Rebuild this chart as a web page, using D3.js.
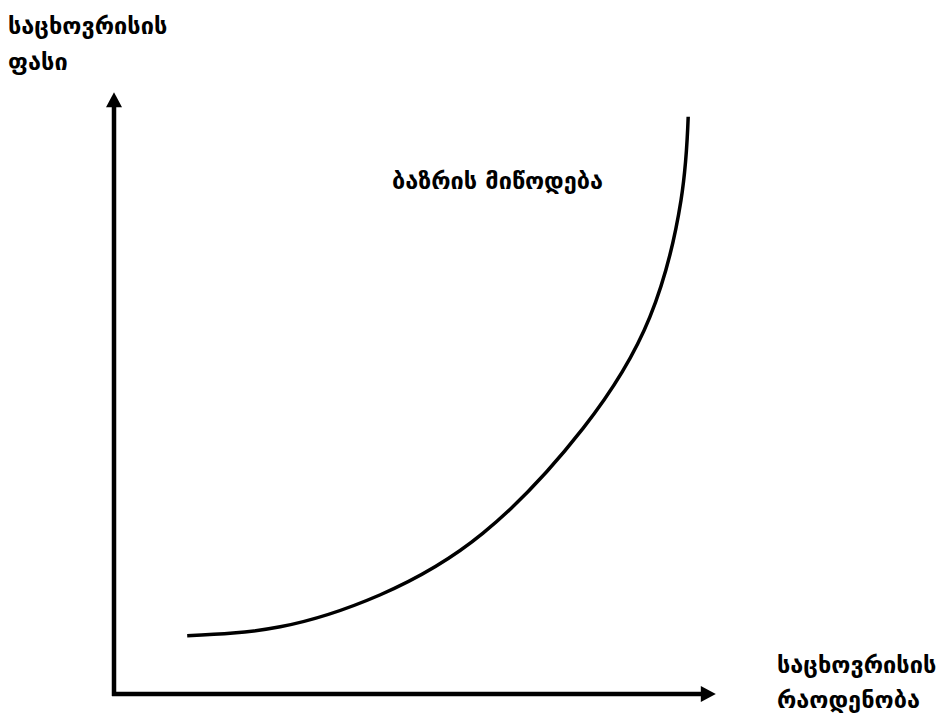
<!DOCTYPE html>
<html>
<head>
<meta charset="utf-8">
<script src="https://cdn.jsdelivr.net/npm/d3@7"></script>
<style>
  html, body { margin: 0; padding: 0; background: #fff; }
  text { font-family: "DejaVu Sans", sans-serif; font-weight: bold; fill: #000; }
</style>
</head>
<body>
<svg id="chart" width="941" height="718"></svg>
<script>
// Data (quantity, price), arbitrary units 0..100
const quantity = [12.2, 27.7, 44.3, 61.5, 78.2, 89.3, 94.5, 95.7];
const price    = [9.7, 11.2, 16.5, 26.8, 44.3, 62.8, 82.3, 96.2];
const yLabelLines = ["საცხოვრისის", "ფასი"];
const xLabelLines = ["საცხოვრისის", "რაოდენობა"];
const curveLabel = "ბაზრის მიწოდება";

const svg = d3.select("#chart");
const x = d3.scaleLinear().domain([0, 100]).range([114, 714]);
const y = d3.scaleLinear().domain([0, 100]).range([694, 94]);

// axes
const axisG = svg.append("g");
axisG.append("line")
  .attr("x1", x(0) - 2).attr("y1", y(0))
  .attr("x2", x(98)).attr("y2", y(0))
  .attr("stroke", "#000").attr("stroke-width", 4.5);
axisG.append("line")
  .attr("x1", x(0)).attr("y1", y(0) + 2)
  .attr("x2", x(0)).attr("y2", y(98))
  .attr("stroke", "#000").attr("stroke-width", 4.5);
// arrow heads
const ah = 8, al = 15;
axisG.append("path")
  .attr("d", `M${x(100.3)},${y(0)} L${x(100.3) - al},${y(0) - ah} L${x(100.3) - al},${y(0) + ah} Z`)
  .attr("fill", "#000");
axisG.append("path")
  .attr("d", `M${x(0)},${y(100.3)} L${x(0) - ah},${y(100.3) + al} L${x(0) + ah},${y(100.3) + al} Z`)
  .attr("fill", "#000");

// supply curve
const pts = quantity.map((q, i) => [q, price[i]]);
const line = d3.line().x(d => x(d[0])).y(d => y(d[1])).curve(d3.curveNatural);
svg.append("path").datum(pts)
  .attr("d", line)
  .attr("fill", "none").attr("stroke", "#000").attr("stroke-width", 3.5);

// labels
const fs = 23.5;
const yl = svg.append("text").attr("x", 8).attr("y", 34).style("font-size", fs + "px");
yLabelLines.forEach((t, i) => yl.append("tspan").attr("x", 8).attr("dy", i ? 36 : 0).text(t));
const xl = svg.append("text").attr("x", 777).attr("y", 673).style("font-size", fs + "px");
xLabelLines.forEach((t, i) => xl.append("tspan").attr("x", 777).attr("dy", i ? 35 : 0).text(t));
svg.append("text").attr("x", 392).attr("y", 189).style("font-size", fs + "px").text(curveLabel);
</script>
</body>
</html>
